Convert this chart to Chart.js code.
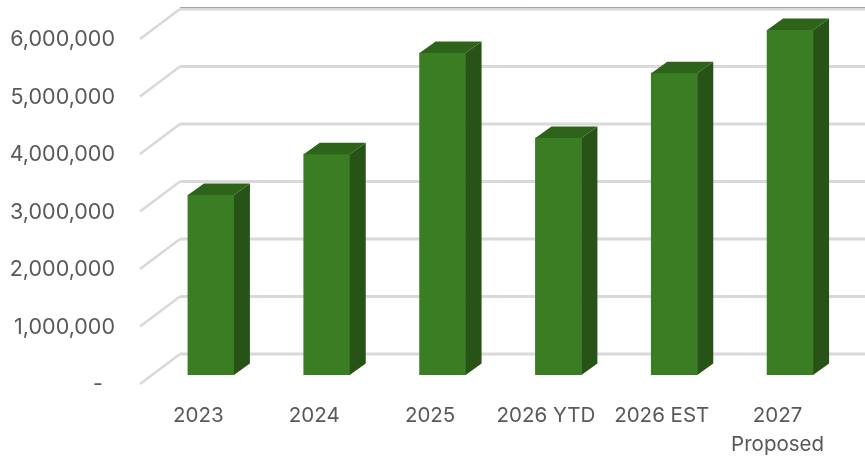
<!DOCTYPE html>
<html>
<head>
<meta charset="utf-8">
<style>
  html, body { margin: 0; padding: 0; background: #ffffff; }
  canvas { display: block; }
</style>
<script src="https://cdn.jsdelivr.net/npm/chart.js@4"></script>
</head>
<body>
<canvas id="chart" width="865" height="458"></canvas>
<script>
const categories = ['2023', '2024', '2025', '2026 YTD', '2026 EST', ['2027', 'Proposed']];
const amounts = [3130000, 3840000, 5600000, 4120000, 5250000, 6000000];
const tickStep = 1000000;
const axisMax = 6000000;

const FRONT = '#3a7d22', SIDE = '#275317', TOP = '#2e631a';
const GRID = '#d9d9d9', TEXT = '#595959';
const FONT = 'Inter, "Liberation Sans", Arial, sans-serif';

// Extruded box faces and the receding wall grid of the pseudo-3D column style.
const depth = {
  id: 'depth',
  beforeDatasetsDraw(chart) {
    const { ctx, scales: { y } } = chart;
    ctx.save();
    ctx.strokeStyle = GRID;
    y.ticks.forEach(t => {
      const py = y.getPixelForValue(t.value);
      ctx.lineWidth = 2.5;
      ctx.beginPath();
      ctx.moveTo(140, py + 9);
      ctx.lineTo(180, py - 21);
      ctx.stroke();
      ctx.lineWidth = 3;
      ctx.beginPath();
      ctx.moveTo(180, py - 21);
      ctx.lineTo(865, py - 21);
      ctx.stroke();
    });
    // Darker hairline along the upper edge of the wall
    const topY = y.getPixelForValue(axisMax) - 21;
    ctx.lineWidth = 1;
    ctx.strokeStyle = '#a6a6a6';
    ctx.beginPath();
    ctx.moveTo(180, topY - 1.5);
    ctx.lineTo(865, topY - 1.5);
    ctx.stroke();
    ctx.restore();
  },
  afterDatasetsDraw(chart) {
    const { ctx } = chart;
    const dx = 16, dy = -11.5;
    ctx.save();
    chart.getDatasetMeta(0).data.forEach(bar => {
      const l = bar.x - bar.width / 2, r = bar.x + bar.width / 2;
      const t = bar.y, b = bar.base;
      ctx.fillStyle = SIDE;
      ctx.beginPath();
      ctx.moveTo(r, t); ctx.lineTo(r + dx, t + dy);
      ctx.lineTo(r + dx, b + dy); ctx.lineTo(r, b);
      ctx.closePath(); ctx.fill();
      ctx.fillStyle = TOP;
      ctx.beginPath();
      ctx.moveTo(l, t); ctx.lineTo(l + dx, t + dy);
      ctx.lineTo(r + dx, t + dy); ctx.lineTo(r, t);
      ctx.closePath(); ctx.fill();
    });
    ctx.restore();
  }
};

new Chart(document.getElementById('chart'), {
  type: 'bar',
  data: {
    labels: categories,
    datasets: [{ data: amounts, backgroundColor: FRONT, borderWidth: 0, barThickness: 46 }]
  },
  options: {
    responsive: false,
    animation: false,
    events: [],
    layout: { autoPadding: false, padding: { top: 30, right: 17, left: 0, bottom: 0 } },
    plugins: { legend: { display: false }, tooltip: { enabled: false } },
    scales: {
      x: {
        grid: { display: false, drawTicks: false },
        border: { display: false },
        afterFit(s) { s.height = 83; s.paddingLeft = 0; s.paddingRight = 0; },
        ticks: {
          color: TEXT, font: { family: FONT, size: 20.5, lineHeight: 1.41 },
          labelOffset: -12.5, padding: 26, maxRotation: 0, autoSkip: false
        }
      },
      y: {
        min: 0, max: axisMax,
        grid: { display: false, drawTicks: false },
        border: { display: false },
        afterFit(s) { s.width = 153; s.paddingTop = 0; s.paddingBottom = 0; },
        ticks: {
          stepSize: tickStep, color: TEXT, font: { family: FONT, size: 21.5 },
          labelOffset: 10, padding: 38,
          callback: v => v === 0 ? '-  ' : v.toLocaleString('en-US')
        }
      }
    }
  },
  plugins: [depth]
});
</script>
</body>
</html>
